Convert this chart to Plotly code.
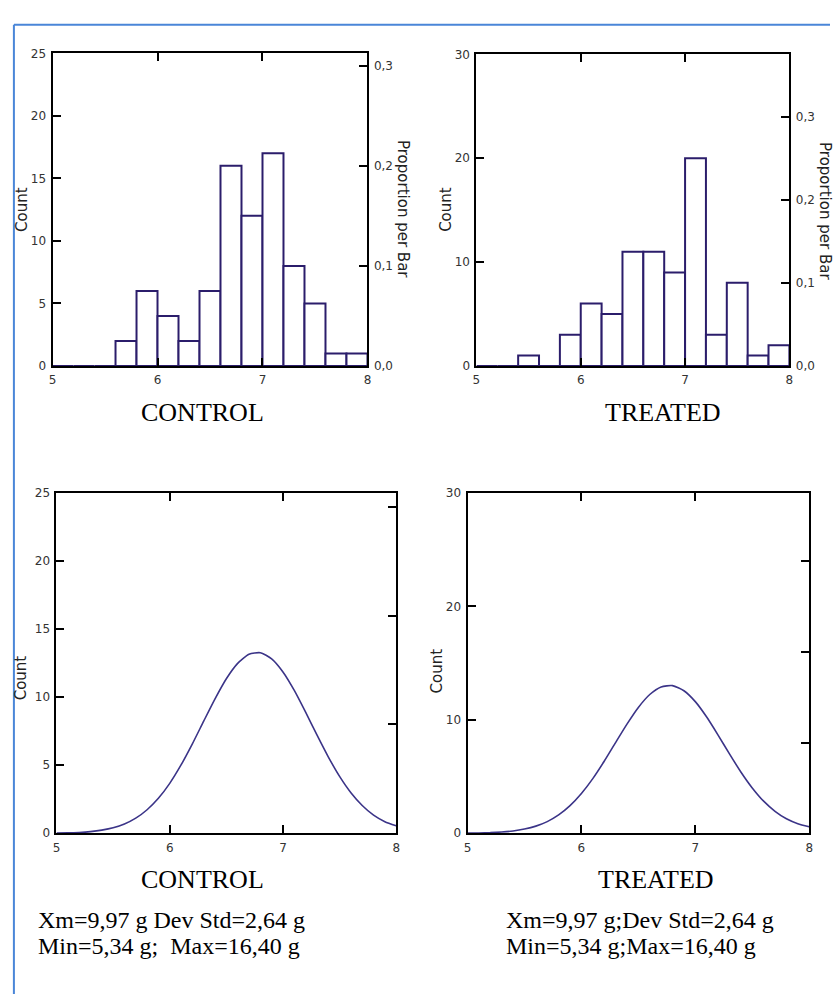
import plotly.graph_objects as go

# ---------------- data ----------------
bin_left = [5.0, 5.2, 5.4, 5.6, 5.8, 6.0, 6.2, 6.4, 6.6, 6.8, 7.0, 7.2, 7.4, 7.6, 7.8]
bin_width = 0.2
control_counts = [0, 0, 0, 2, 6, 4, 2, 6, 16, 12, 17, 8, 5, 1, 1]
treated_counts = [0, 0, 1, 0, 3, 6, 5, 11, 11, 9, 20, 3, 8, 1, 2]

curve_x = [5.0, 5.1, 5.2, 5.3, 5.4, 5.5, 5.6, 5.7, 5.8, 5.9, 6.0,
           6.1, 6.2, 6.3, 6.4, 6.5, 6.6, 6.7, 6.8, 6.9, 7.0,
           7.1, 7.2, 7.3, 7.4, 7.5, 7.6, 7.7, 7.8, 7.9, 8.0]
control_curve = [0.02, 0.03, 0.06, 0.12, 0.23, 0.40, 0.68, 1.11, 1.73, 2.57, 3.67,
                 5.02, 6.57, 8.24, 9.88, 11.36, 12.49, 13.16, 13.27, 12.82, 11.86,
                 10.5, 8.9, 7.23, 5.62, 4.18, 2.98, 2.04, 1.33, 0.85, 0.55]
treated_curve = [0.01, 0.03, 0.055, 0.11, 0.20, 0.37, 0.63, 1.03, 1.62, 2.44, 3.51,
                 4.82, 6.35, 8.0, 9.63, 11.1, 12.24, 12.91, 13.02, 12.57, 11.61,
                 10.25, 8.66, 7.0, 5.41, 4.0, 2.83, 1.94, 1.28, 0.85, 0.58]

x_ticks = [5, 6, 7, 8]
prop_ticks = [0.0, 0.1, 0.2, 0.3]
group_labels = ["CONTROL", "TREATED"]
stats_lines = [
    ["Xm=9,97 g Dev Std=2,64 g", "Min=5,34 g;  Max=16,40 g"],
    ["Xm=9,97 g;Dev Std=2,64 g", "Min=5,34 g;Max=16,40 g"],
]

# ---------------- layout helpers ----------------
W, H = 834, 1001
NAVY = "#2b1d6b"
CURVE = "#3b3488"
FRAME = "#4a86d8"
TICKFONT = dict(family="DejaVu Sans", size=12, color="#333333")
TITLEFONT = dict(family="DejaVu Sans", size=15, color="#222222")
SERIF = "Liberation Serif, Times New Roman, serif"


def fx(p):
    return p / W


def fy(p):
    return 1 - p / H


panels = [
    dict(xp=(49, 367), yp=(47, 364), ymax=25, yticks=[0, 5, 10, 15, 20, 25], kind="bar",
         counts=control_counts, labels=True),
    dict(xp=(477, 793), yp=(48, 364), ymax=30, yticks=[0, 10, 20, 30], kind="bar",
         counts=treated_counts, labels=True),
    dict(xp=(53, 396), yp=(493, 838), ymax=25, yticks=[0, 5, 10, 15, 20, 25], kind="curve",
         curve=control_curve, counts=control_counts, labels=False),
    dict(xp=(468, 813), yp=(493, 838), ymax=30, yticks=[0, 10, 20, 30], kind="curve",
         curve=treated_curve, counts=treated_counts, labels=False),
]

fig = go.Figure()
layout = dict(
    width=W, height=H, autosize=False,
    margin=dict(l=0, r=0, t=0, b=0),
    paper_bgcolor="white", plot_bgcolor="white",
    showlegend=False, separators=",.",
)

for i, p in enumerate(panels):
    n = i + 1
    xa = "x" if n == 1 else f"x{n}"
    ya = "y" if n == 1 else f"y{n}"
    yr = f"y{n + 4}"
    total = sum(p["counts"])

    if p["kind"] == "bar":
        fig.add_trace(go.Bar(
            x=bin_left, y=p["counts"], width=bin_width, offset=0,
            marker=dict(color="white", line=dict(color=NAVY, width=2)),
            xaxis=xa, yaxis=ya, hoverinfo="skip",
        ))
    else:
        fig.add_trace(go.Scatter(
            x=curve_x, y=p["curve"], mode="lines",
            line=dict(color=CURVE, width=1.6, shape="spline", smoothing=0.6),
            xaxis=xa, yaxis=ya, hoverinfo="skip",
        ))
    # proportion axis anchor trace (invisible)
    fig.add_trace(go.Scatter(
        x=[bin_left[0]], y=[0], mode="markers", marker=dict(opacity=0),
        xaxis=xa, yaxis=yr, hoverinfo="skip",
    ))

    common = dict(showgrid=False, zeroline=False, showline=True, linecolor="black", linewidth=2,
                  ticks="inside", ticklen=8, tickwidth=2, tickcolor="black", tickfont=TICKFONT)
    layout[f"xaxis{'' if n == 1 else n}"] = dict(
        domain=[fx(p["xp"][0]), fx(p["xp"][1])], range=[5, 8], tickvals=x_ticks,
        anchor=ya, mirror="ticks", ticklabelstandoff=2, **common)
    layout[f"yaxis{'' if n == 1 else n}"] = dict(
        domain=[fy(p["yp"][1]), fy(p["yp"][0])], range=[0, p["ymax"]], tickvals=p["yticks"],
        anchor=xa, ticklabelstandoff=2, **common)
    layout[f"yaxis{n + 4}"] = dict(
        overlaying=ya, side="right", anchor=xa, range=[0, p["ymax"] / total],
        tickvals=prop_ticks, tickformat=".1f", showticklabels=p["labels"], ticklabelstandoff=2,
        **common)

fig.update_layout(**layout)

# ---------------- texts ----------------
ann = []
count_pos = [(18, 205), (446, 205), (18, 680), (437, 673)]
for (cx, cy) in count_pos:
    ann.append(dict(x=fx(cx), y=fy(cy), text="Count", textangle=-90))
for (cx, cy) in [(403, 205), (829, 207)]:
    ann.append(dict(x=fx(cx), y=fy(cy), text="Proportion per Bar", textangle=90))
for a in ann:
    a.update(font=TITLEFONT)
for k, cx in enumerate([200, 665]):
    ann.append(dict(x=fx(cx), y=fy(411), text=group_labels[k],
                    font=dict(family=SERIF, size=26, color="black")))
for k, cx in enumerate([200, 658]):
    ann.append(dict(x=fx(cx), y=fy(885), text=group_labels[k],
                    font=dict(family=SERIF, size=26, color="black")))
for k, lx in enumerate([32, 505]):
    for j, ly in enumerate([926, 952]):
        ann.append(dict(x=fx(lx), y=fy(ly), text=stats_lines[k][j], xanchor="left",
                        font=dict(family=SERIF, size=24, color="black")))
for a in ann:
    a.setdefault("xanchor", "center")
    a.update(xref="paper", yref="paper", showarrow=False, yanchor="middle")

shapes = [
    dict(type="line", xref="paper", yref="paper", x0=fx(10), x1=1, y0=fy(18), y1=fy(18),
         line=dict(color=FRAME, width=2)),
    dict(type="line", xref="paper", yref="paper", x0=fx(10), x1=fx(10), y0=fy(18), y1=0,
         line=dict(color=FRAME, width=2)),
]
fig.update_layout(annotations=ann, shapes=shapes)

fig.write_html("out.html")
